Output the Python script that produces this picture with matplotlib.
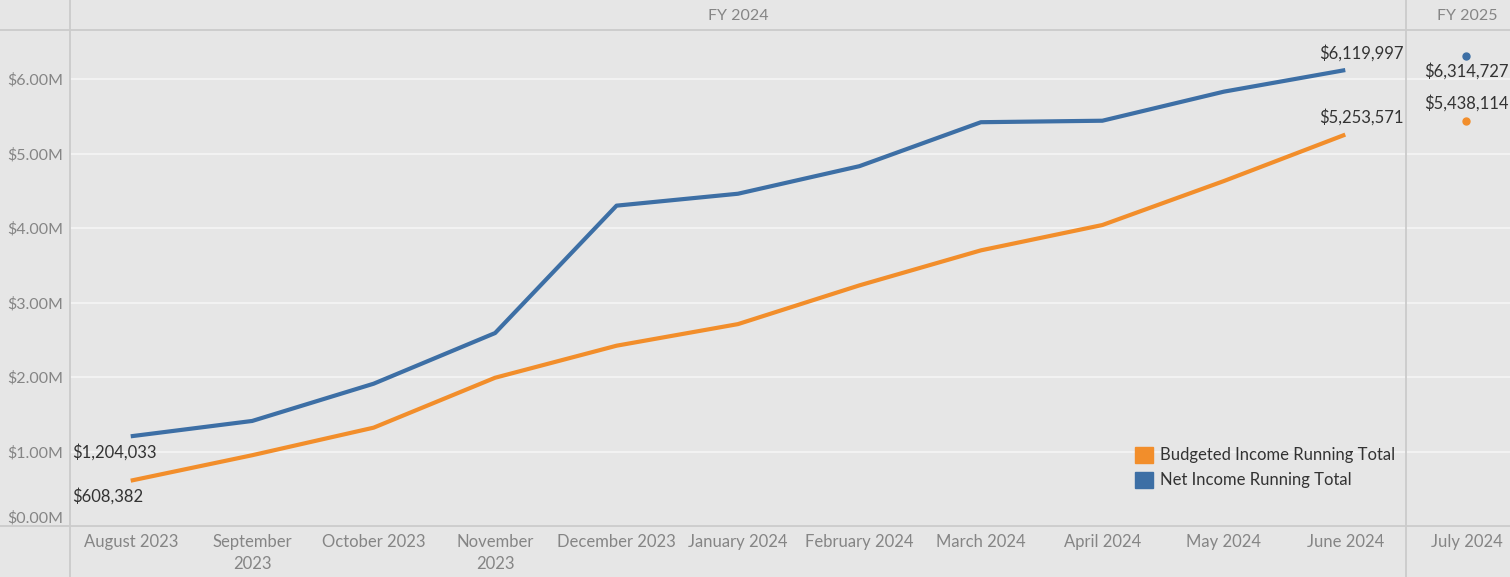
import matplotlib.pyplot as plt
from matplotlib.lines import Line2D
from matplotlib.patches import Patch

plt.rcParams['font.family'] = ['Lato', 'DejaVu Sans']

months_fy24 = ['August 2023', 'September\n2023', 'October 2023', 'November\n2023',
               'December 2023', 'January 2024', 'February 2024', 'March 2024',
               'April 2024', 'May 2024', 'June 2024']
months_fy25 = ['July 2024']

# running totals, $M
net_fy24 = [1.204033, 1.41, 1.91, 2.59, 4.30, 4.46, 4.83, 5.42, 5.44, 5.83, 6.119997]
budget_fy24 = [0.608382, 0.95, 1.32, 1.99, 2.42, 2.71, 3.23, 3.70, 4.04, 4.63, 5.253571]
net_fy25 = [6.314727]
budget_fy25 = [5.438114]

y_ticks = [0, 1, 2, 3, 4, 5, 6]
y_labels = ['$0.00M', '$1.00M', '$2.00M', '$3.00M', '$4.00M', '$5.00M', '$6.00M']

BG = '#e6e6e6'
GRID = '#f3f3f3'
RULE = '#cbcbcb'
BLUE = '#3d6fa5'
ORANGE = '#f28e2b'
TICK = '#858585'
LABEL = '#333333'

W, H = 1510, 577
fig = plt.figure(figsize=(W / 100, H / 100), dpi=100)
fig.patch.set_facecolor(BG)

x0, x1, x2 = 70, 1406, 1510
y_bot, y_top = 526, 30
ax1 = fig.add_axes([x0 / W, (H - y_bot) / H, (x1 - x0) / W, (y_bot - y_top) / H])
ax2 = fig.add_axes([x1 / W, (H - y_bot) / H, (x2 - x1) / W, (y_bot - y_top) / H])

ymax = (y_bot - y_top) / 74.5
for ax in (ax1, ax2):
    ax.set_facecolor(BG)
    ax.set_ylim(0, ymax)
    for s in ax.spines.values():
        s.set_visible(False)
    ax.set_yticks(y_ticks)
    ax.grid(axis='y', color=GRID, linewidth=1.4)
    ax.set_axisbelow(True)
    ax.tick_params(length=0, colors=TICK, labelsize=11.5)
    ax.tick_params(axis='x', labelsize=12, pad=6)

# FY 2024 panel
xs = list(range(len(months_fy24)))
ax1.set_xlim(-0.5, len(months_fy24) - 0.5)
ax1.plot(xs, budget_fy24, color=ORANGE, linewidth=3, solid_capstyle='butt')
ax1.plot(xs, net_fy24, color=BLUE, linewidth=3, solid_capstyle='butt')
ax1.set_xticks(xs, months_fy24)
for t in ax1.get_xticklabels():
    t.set_linespacing(1.45)
ax1.set_yticklabels(y_labels)
ax1.tick_params(axis='y', pad=5)
ax1.yaxis.get_major_ticks()[0].label1.set_va('bottom')

def money(v):
    return '${:,.0f}'.format(round(v * 1e6))

lab = dict(color=LABEL, fontsize=12, textcoords='offset points', va='center')
ax1.annotate(money(net_fy24[0]), (0, net_fy24[0]), xytext=(-42.5, -11.5), ha='left', **lab)
ax1.annotate(money(budget_fy24[0]), (0, budget_fy24[0]), xytext=(-42.5, -11.5), ha='left', **lab)
ax1.annotate(money(net_fy24[-1]), (xs[-1], net_fy24[-1]), xytext=(42, 12.5), ha='right', **lab)
ax1.annotate(money(budget_fy24[-1]), (xs[-1], budget_fy24[-1]), xytext=(42, 12.5), ha='right', **lab)

# FY 2025 panel (cut off at the right edge)
ax2.set_xlim(-0.5, 0.5 - (1527 - x2) / 121.5)
ax2.plot([0], net_fy25, 'o', color=BLUE, markersize=5)
ax2.plot([0], budget_fy25, 'o', color=ORANGE, markersize=5)
ax2.set_xticks([0], months_fy25)
ax2.set_yticklabels([])
ax2.annotate(money(net_fy25[0]), (0, net_fy25[0]), xytext=(0, -11.5), ha='center', **lab)
ax2.annotate(money(budget_fy25[0]), (0, budget_fy25[0]), xytext=(0, 12.5), ha='center', **lab)

# header + rules
fig.text((x0 + x1) / 2 / W, 1 - 16 / H, 'FY 2024', ha='center', va='center', color=TICK, fontsize=11.5)
fig.text(1467 / W, 1 - 16 / H, 'FY 2025', ha='center', va='center', color=TICK, fontsize=11.5)
fig.add_artist(Line2D([0, 1], [1 - y_top / H] * 2, color=RULE, linewidth=1.3))
fig.add_artist(Line2D([0, 1], [1 - y_bot / H] * 2, color=RULE, linewidth=1.3))
fig.add_artist(Line2D([x0 / W] * 2, [0, 1], color=RULE, linewidth=1.3))
fig.add_artist(Line2D([x1 / W] * 2, [0, 1], color=RULE, linewidth=1.3))

handles = [Patch(color=ORANGE, label='Budgeted Income Running Total'),
           Patch(color=BLUE, label='Net Income Running Total')]
fig.legend(handles=handles, loc='upper left', bbox_to_anchor=(1128 / W, 1 - 440 / H),
           frameon=False, fontsize=12, labelcolor=LABEL, handlelength=1.1, handleheight=1.1,
           handletextpad=0.45, labelspacing=0.5, borderaxespad=0)

fig.savefig('out.png', dpi=100, facecolor=BG)
